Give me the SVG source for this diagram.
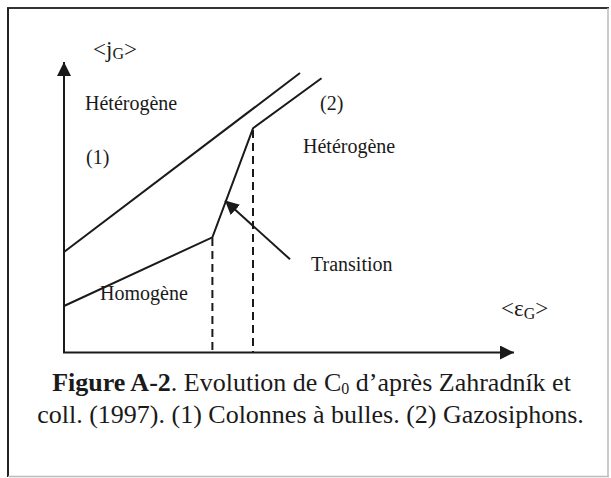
<svg xmlns="http://www.w3.org/2000/svg" width="611" height="478" viewBox="0 0 611 478">
<style>
.lbl{font-family:"Liberation Serif","Times New Roman",serif;font-size:20px;fill:#1a1a1a}
.sym{font-family:"Liberation Serif","Times New Roman",serif;font-size:23px;fill:#1a1a1a}
.cap{font-family:"Liberation Serif","Times New Roman",serif;font-size:26px;fill:#1a1a1a}
.ln{stroke:#1a1a1a;stroke-width:2;fill:none}
.dash{stroke:#1a1a1a;stroke-width:2;fill:none;stroke-dasharray:8 5}
</style>
<defs>
<marker id="ah" viewBox="0 0 10 10" refX="10" refY="5" markerWidth="14" markerHeight="14" markerUnits="userSpaceOnUse" orient="auto">
<path d="M0,0 L10,5 L0,10 z" fill="#1a1a1a"/>
</marker>
</defs>
<rect width="611" height="478" fill="#ffffff"/>
<g id="frame">
<line x1="7" y1="8" x2="609" y2="8" stroke="#333" stroke-width="2"/>
<line x1="8" y1="8" x2="8" y2="477" stroke="#222" stroke-width="2"/>
<line x1="608" y1="8" x2="608" y2="477" stroke="#bbb" stroke-width="1.5"/>
<line x1="8" y1="476.5" x2="609" y2="476.5" stroke="#bbb" stroke-width="1.5"/>
</g>
<g id="connectors">
<line class="ln" x1="64" y1="353" x2="64" y2="62" marker-end="url(#ah)"/>
<line class="ln" x1="63" y1="352.5" x2="514" y2="352.5" marker-end="url(#ah)"/>
<line class="ln" x1="64" y1="252" x2="300" y2="73"/>
<polyline class="ln" points="64,306 212.4,237.3 253,128.3 321.5,78.3"/>
<line class="dash" x1="212.4" y1="238" x2="212.4" y2="352"/>
<line class="dash" x1="253" y1="130" x2="253" y2="352"/>
<line class="ln" x1="290" y1="259.3" x2="225" y2="200.5" marker-end="url(#ah)"/>
</g>
<g id="label-jG"><text class="sym" x="93" y="57">&lt;j<tspan font-size="16" dy="2">G</tspan><tspan dy="-2">&gt;</tspan></text></g>
<g id="label-het1"><text class="lbl" x="85" y="110">Hétérogène</text></g>
<g id="label-1"><text class="lbl" x="86" y="164">(1)</text></g>
<g id="label-2"><text class="lbl" x="320" y="110">(2)</text></g>
<g id="label-het2"><text class="lbl" x="303" y="153">Hétérogène</text></g>
<g id="label-transition"><text class="lbl" x="311" y="271">Transition</text></g>
<g id="label-homogene"><text class="lbl" x="100" y="300">Homogène</text></g>
<g id="label-eG"><text class="sym" x="501" y="316">&lt;ε<tspan font-size="16" dy="3">G</tspan><tspan dy="-3">&gt;</tspan></text></g>
<g id="caption">
<text class="cap" x="311.5" y="391" text-anchor="middle"><tspan font-weight="bold">Figure A-2</tspan>. Evolution de C<tspan font-size="16" dy="3">0</tspan><tspan dy="-3"> d’après Zahradník et</tspan></text>
<text class="cap" x="310.5" y="423" text-anchor="middle">coll. (1997). (1) Colonnes à bulles. (2) Gazosiphons.</text>
</g>
</svg>
